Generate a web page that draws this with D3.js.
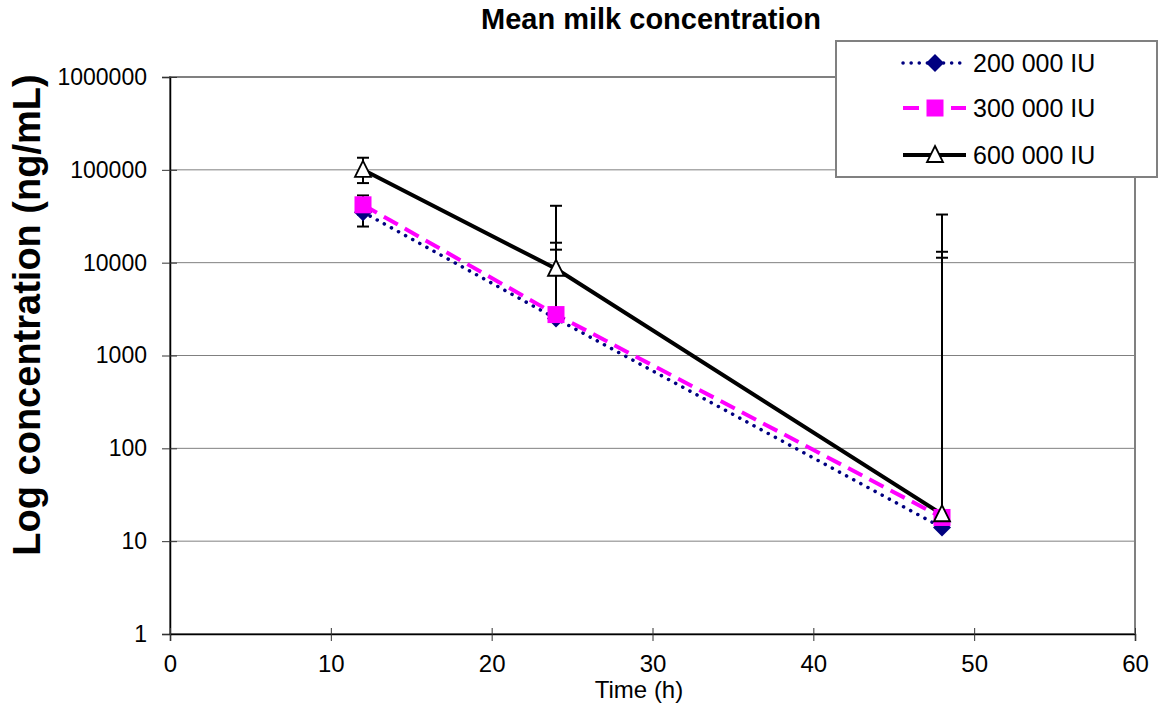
<!DOCTYPE html>
<html>
<head>
<meta charset="utf-8">
<script src="https://cdn.jsdelivr.net/npm/d3@7/dist/d3.min.js"></script>
<style>
  body { margin: 0; background: #fff; }
  svg { display: block; font-family: Arial, "Liberation Sans", sans-serif; }
</style>
</head>
<body>
<svg id="chart" width="1159" height="708"></svg>
<script>
// data
const times = [12, 24, 48];
const seriesNames = ['200 000 IU', '300 000 IU', '600 000 IU'];
const mean200 = [35000, 2500, 14];
const mean300 = [42000, 2760, 18];
const mean600 = [100000, 8600, 19.5];
// error bar ends (null = not drawn on log axis)
const upper200 = [45500, 13800, 11300];
const lower200 = [24500, null, null];
const upper300 = [53000, 16400, 13100];
const lower300 = [33000, null, null];
const upper600 = [135000, 41000, 33000];
const lower600 = [72000, null, null];
const yTicks = [1, 10, 100, 1000, 10000, 100000, 1000000];
const xTicks = [0, 10, 20, 30, 40, 50, 60];

const W = 1159, H = 708;
const M = { top: 77, right: 24, bottom: 74, left: 170 };
const FONT = 'Arial, "Liberation Sans", sans-serif';
const svg = d3.select('#chart');

const x = d3.scaleLinear().domain([0, 60]).range([M.left, W - M.right]);
const y = d3.scaleLog().domain([1, 1000000]).range([H - M.bottom, M.top]);

const series = [
  { name: seriesNames[0], mean: mean200, up: upper200, lo: lower200, color: '#000080', width: 3.5, dash: '0.1,8', cap: 'round', marker: 'diamond' },
  { name: seriesNames[1], mean: mean300, up: upper300, lo: lower300, color: '#ff00ff', width: 4, dash: '16,8', cap: 'butt', marker: 'square' },
  { name: seriesNames[2], mean: mean600, up: upper600, lo: lower600, color: '#000000', width: 4, dash: null, cap: 'butt', marker: 'triangle' }
];

// plot area frame
svg.append('rect')
  .attr('x', M.left).attr('y', M.top)
  .attr('width', W - M.right - M.left).attr('height', H - M.bottom - M.top)
  .attr('fill', '#fff').attr('stroke', '#808080').attr('stroke-width', 2);

// grid
svg.append('g')
  .selectAll('line')
  .data(yTicks.slice(1, -1))
  .join('line')
  .attr('x1', M.left).attr('x2', W - M.right)
  .attr('y1', d => y(d)).attr('y2', d => y(d))
  .attr('stroke', '#808080').attr('stroke-width', 1);

// axes
svg.append('g')
  .attr('transform', `translate(${M.left},0)`)
  .call(d3.axisLeft(y).tickValues(yTicks).tickFormat(d3.format('d')).tickSize(8).tickPadding(15))
  .call(g => g.select('.domain').attr('stroke', '#000').attr('stroke-width', 1.5))
  .call(g => g.selectAll('.tick line').attr('stroke', '#333').attr('x1', 7))
  .call(g => g.selectAll('text').attr('fill', '#000').style('font-size', '23px').style('font-family', FONT));

svg.append('g')
  .attr('transform', `translate(0,${H - M.bottom})`)
  .call(d3.axisBottom(x).tickValues(xTicks).tickSize(7).tickPadding(14))
  .call(g => g.select('.domain').attr('stroke', '#000').attr('stroke-width', 1.5))
  .call(g => g.selectAll('.tick line').attr('stroke', '#333').attr('y1', -6))
  .call(g => g.selectAll('text').attr('fill', '#000').style('font-size', '24px').style('font-family', FONT));

// lines
const line = d3.line().x((d, i) => x(times[i])).y(d => y(d));
series.forEach(s => {
  svg.append('path')
    .attr('d', line(s.mean))
    .attr('fill', 'none')
    .attr('stroke', s.color)
    .attr('stroke-width', s.width)
    .attr('stroke-linecap', s.cap)
    .attr('stroke-dasharray', s.dash);
});

// error bars
const capW = 6;
series.forEach(s => {
  const g = svg.append('g').attr('stroke', '#000').attr('stroke-width', 2);
  times.forEach((t, i) => {
    const cx = x(t);
    const top = s.up[i] != null ? s.up[i] : s.mean[i];
    const bot = s.lo[i] != null ? s.lo[i] : s.mean[i];
    g.append('line').attr('x1', cx).attr('x2', cx).attr('y1', y(top)).attr('y2', y(bot));
    if (s.up[i] != null) g.append('line').attr('x1', cx - capW).attr('x2', cx + capW).attr('y1', y(s.up[i])).attr('y2', y(s.up[i]));
    if (s.lo[i] != null) g.append('line').attr('x1', cx - capW).attr('x2', cx + capW).attr('y1', y(s.lo[i])).attr('y2', y(s.lo[i]));
  });
});

// markers
function drawMarker(g, type, cx, cy, color) {
  if (type === 'diamond') {
    g.append('path').attr('d', `M${cx},${cy - 9}L${cx + 9},${cy}L${cx},${cy + 9}L${cx - 9},${cy}Z`).attr('fill', color);
  } else if (type === 'square') {
    g.append('rect').attr('x', cx - 8.5).attr('y', cy - 8.5).attr('width', 17).attr('height', 17).attr('fill', color);
  } else {
    g.append('path').attr('d', `M${cx},${cy - 9}L${cx + 8},${cy + 7}L${cx - 8},${cy + 7}Z`)
      .attr('fill', '#fff').attr('stroke', '#000').attr('stroke-width', 1.8);
  }
}
series.forEach(s => {
  const g = svg.append('g');
  s.mean.forEach((v, i) => drawMarker(g, s.marker, x(times[i]), y(v), s.color));
});

// title and axis labels
svg.append('text')
  .attr('x', 651).attr('y', 29)
  .attr('text-anchor', 'middle')
  .style('font-size', '29px').style('font-weight', '700')
  .text('Mean milk concentration');

svg.append('text')
  .attr('transform', `translate(40,315) rotate(-90)`)
  .attr('text-anchor', 'middle')
  .style('font-size', '38px').style('font-weight', '700')
  .text('Log concentration (ng/mL)');

svg.append('text')
  .attr('x', 639).attr('y', 698)
  .attr('text-anchor', 'middle')
  .style('font-size', '24px')
  .text('Time (h)');

// legend
const legend = svg.append('g');
legend.append('rect')
  .attr('x', 836).attr('y', 41).attr('width', 321).attr('height', 136)
  .attr('fill', '#fff').attr('stroke', '#808080').attr('stroke-width', 2);
const legendY = [63, 108, 155];
series.forEach((s, i) => {
  const ly = legendY[i];
  legend.append('line')
    .attr('x1', 903).attr('x2', 966).attr('y1', ly).attr('y2', ly)
    .attr('stroke', s.color).attr('stroke-width', s.width)
    .attr('stroke-linecap', s.cap).attr('stroke-dasharray', s.dash);
  drawMarker(legend, s.marker, 935, ly, s.color);
  legend.append('text')
    .attr('x', 973).attr('y', ly + 9)
    .style('font-size', '25px')
    .text(s.name);
});
</script>
</body>
</html>
